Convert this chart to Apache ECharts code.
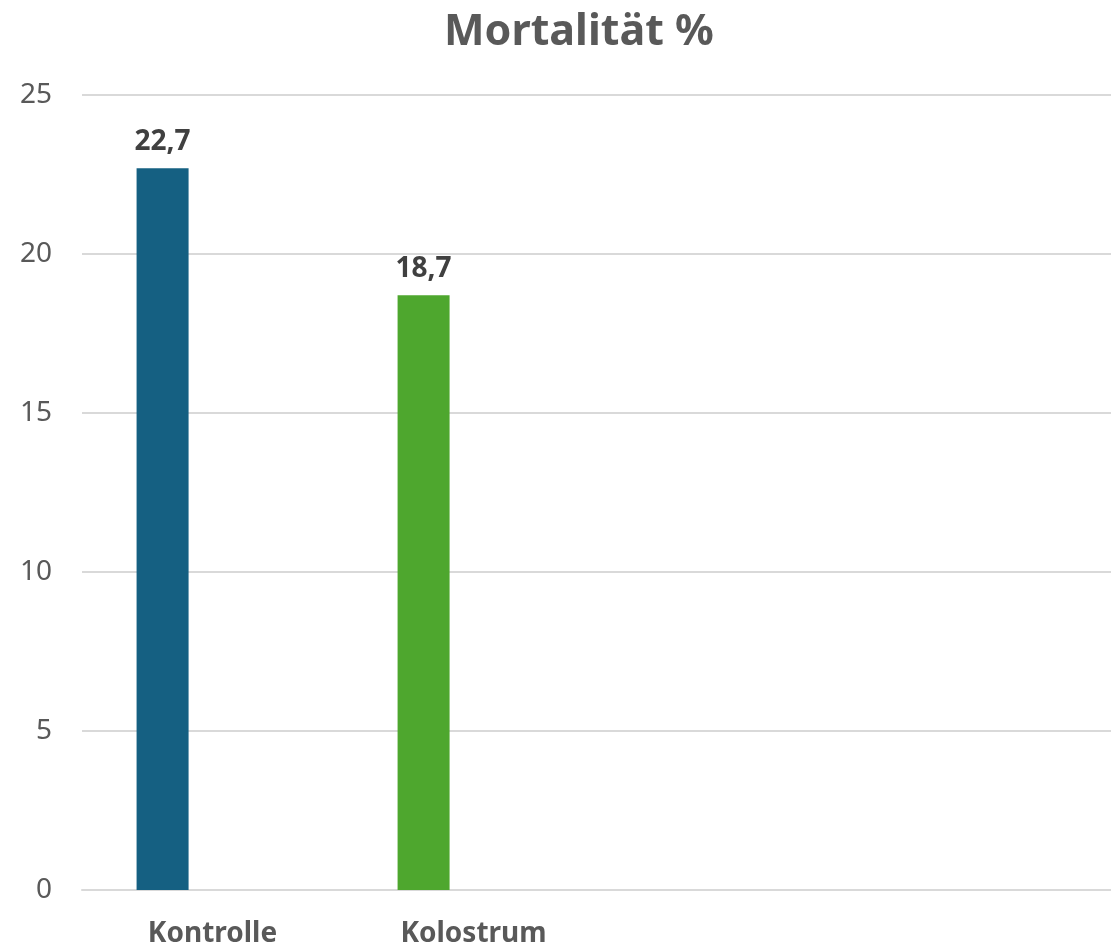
<!DOCTYPE html>
<html>
<head>
<meta charset="utf-8">
<script src="https://cdn.jsdelivr.net/npm/echarts@6/dist/echarts.min.js"></script>
<style>
html,body{margin:0;padding:0;background:#fff;overflow:hidden;}
#c{width:1111px;height:947px;}
</style>
</head>
<body>
<div id="c"></div>
<script>
const categories = ['Kontrolle', 'Kolostrum', '', ''];
const values = [22.7, 18.7, null, null];
const barColors = ['#156082', '#4EA72E', '#156082', '#4EA72E'];
const yTicks = [0, 5, 10, 15, 20, 25];

const chart = echarts.init(document.getElementById('c'));
const font = '"Noto Sans", "Open Sans", sans-serif';
chart.setOption({
  animation: false,
  title: {
    text: 'Mortalität %',
    left: 439,
    top: 6,
    textStyle: {fontSize: 43, fontWeight: 'bold', color: '#595959', fontFamily: font}
  },
  grid: {left: 82, width: 1044, top: 95, bottom: 57, containLabel: false, outerBoundsMode: 'none'},
  xAxis: {
    type: 'category',
    data: categories,
    axisLine: {show: true, lineStyle: {color: '#d9d9d9', width: 2}},
    axisTick: {show: false},
    axisLabel: {fontSize: 28, fontWeight: 'bold', color: '#595959', fontFamily: font, margin: 30}
  },
  yAxis: {
    type: 'value',
    min: yTicks[0],
    max: yTicks[yTicks.length - 1],
    interval: 5,
    axisLine: {show: false},
    axisTick: {show: false},
    splitLine: {lineStyle: {color: '#d9d9d9', width: 2}},
    axisLabel: {fontSize: 28, color: '#595959', fontFamily: font, margin: 30}
  },
  series: [
    {
      type: 'bar',
      data: values.map((v, i) => ({value: v, itemStyle: {color: barColors[i]}})),
      barWidth: 52,
      barGap: '92%',
      label: {
        show: true,
        position: 'top',
        distance: 12,
        fontSize: 28,
        fontWeight: 'bold',
        color: '#404040',
        fontFamily: font,
        formatter: p => p.value == null ? '' : String(p.value).replace('.', ',')
      }
    },
    {
      type: 'bar',
      data: [null, null, null, null],
      barWidth: 52
    }
  ]
});
</script>
</body>
</html>
